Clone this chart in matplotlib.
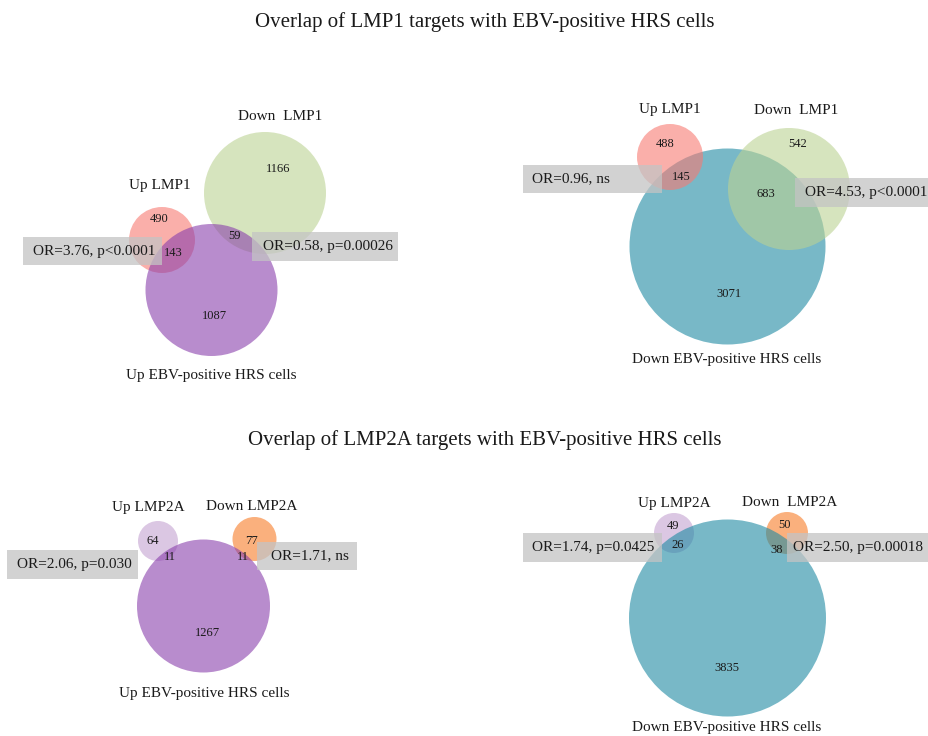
import matplotlib.pyplot as plt
from matplotlib.patches import Circle, Rectangle

plt.rcParams['font.family'] = ['Liberation Serif', 'DejaVu Serif']

# titles
title_lmp1 = 'Overlap of LMP1 targets with EBV-positive HRS cells'
title_lmp2a = 'Overlap of LMP2A targets with EBV-positive HRS cells'

# set names
p1_sets = ['Up LMP1', 'Down  LMP1', 'Up EBV-positive HRS cells']
p2_sets = ['Up LMP1', 'Down  LMP1', 'Down EBV-positive HRS cells']
p3_sets = ['Up LMP2A', 'Down LMP2A', 'Up EBV-positive HRS cells']
p4_sets = ['Up LMP2A', 'Down  LMP2A', 'Down EBV-positive HRS cells']

# region counts: [only up, up&hrs, only down, down&hrs, only hrs]
p1_counts = [490, 143, 1166, 59, 1087]
p2_counts = [488, 145, 542, 683, 3071]
p3_counts = [64, 11, 77, 11, 1267]
p4_counts = [49, 26, 50, 38, 3835]

# odds ratio annotations (up, down)
p1_or = ['OR=3.76, p<0.0001', 'OR=0.58, p=0.00026']
p2_or = ['OR=0.96, ns', 'OR=4.53, p<0.0001']
p3_or = ['OR=2.06, p=0.030', 'OR=1.71, ns']
p4_or = ['OR=1.74, p=0.0425', 'OR=2.50, p=0.00018']

# colours
pink = '#f87a72'
green = '#bcd293'
purple = '#8a3fac'
teal = '#1e8aa3'
lavender = '#c4a2d1'
orange = '#f87c27'


fig = plt.figure(figsize=(9.29, 7.36), dpi=100)
ax = fig.add_axes([0, 0, 1, 1])
ax.set_xlim(0, 929)
ax.set_ylim(736, 0)
ax.axis('off')


def circ(x, y, r, c, z):
    ax.add_patch(Circle((x, y), r, facecolor=c, edgecolor='none', alpha=0.6, zorder=z))


def box(x0, x1, y0, y1, txt, tx):
    ax.add_patch(Rectangle((x0, y0), x1 - x0, y1 - y0, facecolor='#c4c4c4',
                           edgecolor='none', alpha=0.75, zorder=5))
    ax.text(tx, (y0 + y1) / 2, txt, fontsize=11, ha='left', va='center',
            color='#1a1a1a', zorder=6)


def num(x, y, v):
    ax.text(x, y, str(v), fontsize=9, ha='center', va='center',
            color='#1a1a1a', zorder=7)


def lab(x, y, s):
    ax.text(x, y, s, fontsize=11, ha='center', va='center',
            color='#1a1a1a', zorder=7)


ax.text(485, 22, title_lmp1, fontsize=15, ha='center', va='center', color='#1a1a1a')
ax.text(485, 440, title_lmp2a, fontsize=15, ha='center', va='center', color='#1a1a1a')

# panel 1: top left
circ(162, 240, 33, pink, 1)
circ(265, 193, 61, green, 1)
circ(211.5, 290, 66, purple, 2)
lab(160, 185, p1_sets[0])
lab(280, 117, p1_sets[1])
lab(211, 376, p1_sets[2])
num(159, 219, p1_counts[0])
num(173, 253, p1_counts[1])
num(278, 169, p1_counts[2])
num(235, 236, p1_counts[3])
num(214, 316, p1_counts[4])
box(23, 162, 237, 265, p1_or[0], 33)
box(252, 398, 232, 261, p1_or[1], 263)

# panel 2: top right
circ(727.5, 246.5, 98, teal, 1)
circ(670, 157, 33, pink, 2)
circ(789, 189, 61, green, 2)
lab(670, 110, p2_sets[0])
lab(796, 110, p2_sets[1])
lab(727, 360, p2_sets[2])
num(665, 144, p2_counts[0])
num(681, 177, p2_counts[1])
num(798, 144, p2_counts[2])
num(766, 194, p2_counts[3])
num(729, 294, p2_counts[4])
box(523, 662, 165, 193, p2_or[0], 532)
box(795, 929, 178, 207, p2_or[1], 805)

# panel 3: bottom left
circ(158, 541, 20, lavender, 1)
circ(254.5, 539, 22, orange, 1)
circ(203.5, 606, 66.5, purple, 2)
lab(148, 507, p3_sets[0])
lab(252, 507, p3_sets[1])
lab(204, 694, p3_sets[2])
num(153, 541, p3_counts[0])
num(170, 557, p3_counts[1])
num(252, 541, p3_counts[2])
num(243, 557, p3_counts[3])
num(207, 633, p3_counts[4])
box(7, 138, 550, 579, p3_or[0], 17)
box(257, 357, 542, 570, p3_or[1], 271)

# panel 4: bottom right
circ(674, 533, 20, lavender, 1)
circ(787, 533, 21, orange, 1)
circ(727.5, 618, 98.5, teal, 2)
lab(674, 503, p4_sets[0])
lab(790, 503, p4_sets[1])
lab(727, 728, p4_sets[2])
num(673, 526, p4_counts[0])
num(678, 545, p4_counts[1])
num(785, 525, p4_counts[2])
num(777, 550, p4_counts[3])
num(727, 668, p4_counts[4])
box(523, 662, 533, 562, p4_or[0], 532)
box(787, 929, 533, 562, p4_or[1], 793)

fig.savefig('out.png', dpi=100)
